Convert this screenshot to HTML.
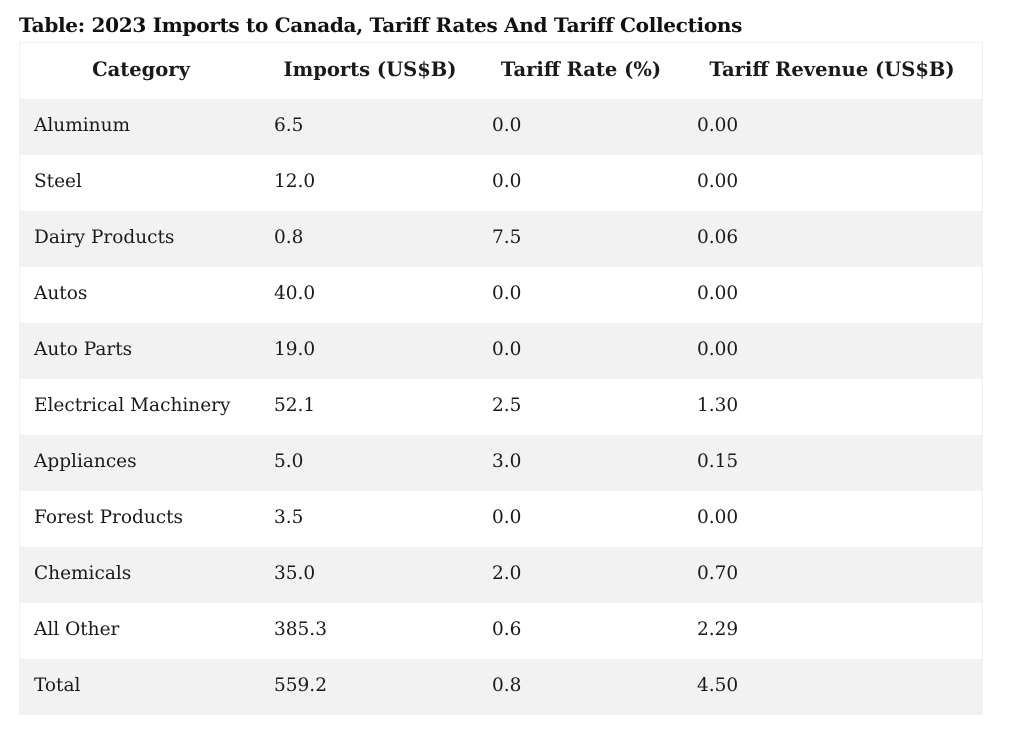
<!DOCTYPE html>
<html><head><meta charset="utf-8"><style>
body{margin:0;width:1010px;height:732px;background:#fff;font-family:"DejaVu Serif","Liberation Serif",serif;color:#1a1a1a;position:relative;overflow:hidden}
h1{position:absolute;left:19px;top:13px;margin:0;font-size:20px;font-weight:bold;color:#111;letter-spacing:-0.3px;white-space:nowrap}
.tbl{position:absolute;left:19px;top:42px;width:962px;border:1px solid #f0f0f0;border-bottom:none}
.row{position:relative;height:56px;font-size:18.5px}
.row.g{background:#f2f2f2}
.row span{position:absolute;top:16px;white-space:nowrap}
.hdr span{font-weight:bold;font-size:19.5px;top:15px;transform:translateX(-50%)}
</style></head><body>
<h1>Table: 2023 Imports to Canada, Tariff Rates And Tariff Collections</h1>
<div class="tbl">
<div class="row hdr"><span style="left:121px">Category</span><span style="left:350px">Imports (US$B)</span><span style="left:561px">Tariff Rate (%)</span><span style="left:812px">Tariff Revenue (US$B)</span></div>
<div class="row g"><span style="left:14px">Aluminum</span><span style="left:254px">6.5</span><span style="left:472px">0.0</span><span style="left:677px">0.00</span></div>
<div class="row"><span style="left:14px">Steel</span><span style="left:254px">12.0</span><span style="left:472px">0.0</span><span style="left:677px">0.00</span></div>
<div class="row g"><span style="left:14px">Dairy Products</span><span style="left:254px">0.8</span><span style="left:472px">7.5</span><span style="left:677px">0.06</span></div>
<div class="row"><span style="left:14px">Autos</span><span style="left:254px">40.0</span><span style="left:472px">0.0</span><span style="left:677px">0.00</span></div>
<div class="row g"><span style="left:14px">Auto Parts</span><span style="left:254px">19.0</span><span style="left:472px">0.0</span><span style="left:677px">0.00</span></div>
<div class="row"><span style="left:14px">Electrical Machinery</span><span style="left:254px">52.1</span><span style="left:472px">2.5</span><span style="left:677px">1.30</span></div>
<div class="row g"><span style="left:14px">Appliances</span><span style="left:254px">5.0</span><span style="left:472px">3.0</span><span style="left:677px">0.15</span></div>
<div class="row"><span style="left:14px">Forest Products</span><span style="left:254px">3.5</span><span style="left:472px">0.0</span><span style="left:677px">0.00</span></div>
<div class="row g"><span style="left:14px">Chemicals</span><span style="left:254px">35.0</span><span style="left:472px">2.0</span><span style="left:677px">0.70</span></div>
<div class="row"><span style="left:14px">All Other</span><span style="left:254px">385.3</span><span style="left:472px">0.6</span><span style="left:677px">2.29</span></div>
<div class="row g"><span style="left:14px">Total</span><span style="left:254px">559.2</span><span style="left:472px">0.8</span><span style="left:677px">4.50</span></div>
</div>
</body></html>
